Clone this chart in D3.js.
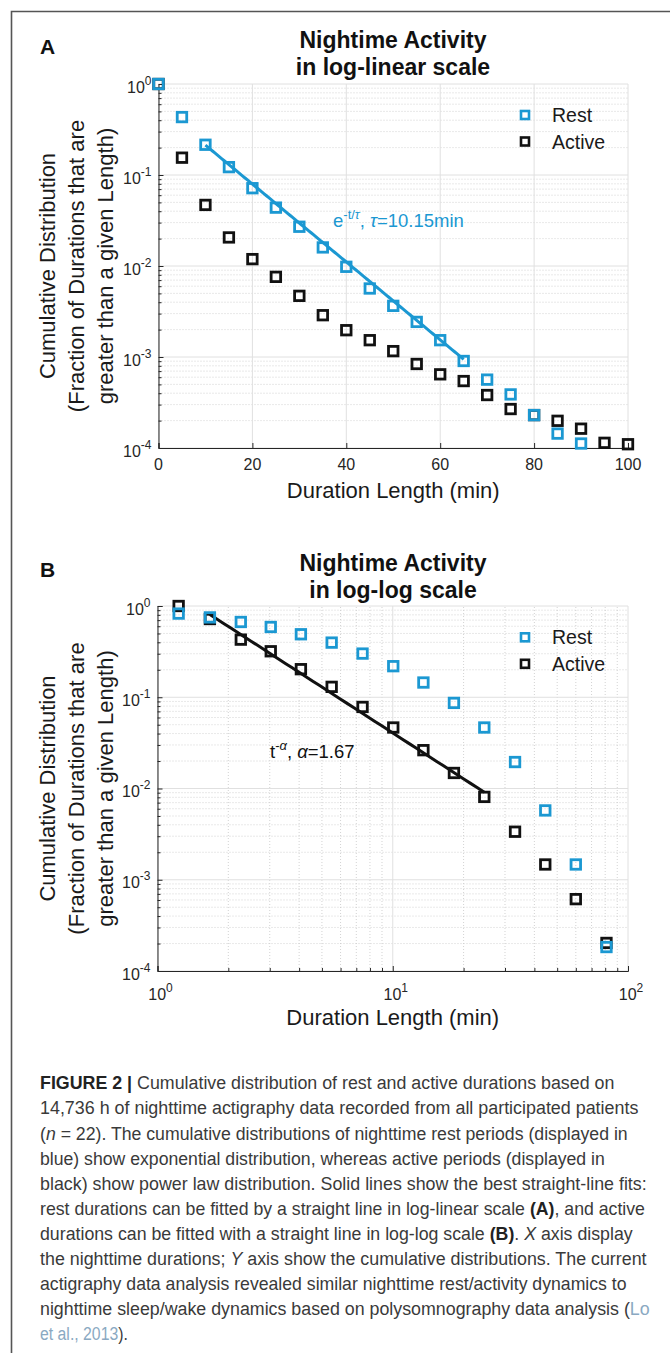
<!DOCTYPE html>
<html>
<head>
<meta charset="utf-8">
<script src="https://cdn.jsdelivr.net/npm/d3@7"></script>
<style>
  html, body { margin: 0; padding: 0; background: #fff; }
  svg { display: block; }
  text { font-family: "Liberation Sans", Arial, Helvetica, sans-serif; }
</style>
</head>
<body>
<svg id="fig" width="670" height="1353"></svg>
<script>
// ---- Panel A: log-linear, durations in minutes ----
const restA_t = [0, 5, 10, 15, 20, 25, 30, 35, 40, 45, 50, 55, 60, 65, 70, 75, 80, 85, 90];
const restA = [1.0, 0.433, 0.215, 0.122, 0.0716, 0.0438, 0.0270, 0.0160, 0.0098, 0.00566, 0.00365,
               0.00243, 0.00153, 0.000904, 0.000564, 0.000388, 0.000230, 0.000144, 0.000112];
const activeA_t = [0, 5, 10, 15, 20, 25, 30, 35, 40, 45, 50, 55, 60, 65, 70, 75, 80, 85, 90, 95, 100];
const activeA = [1.0, 0.155, 0.0469, 0.0206, 0.0119, 0.0076, 0.0047, 0.00288, 0.00197, 0.00153, 0.00116,
                 0.000838, 0.000645, 0.000544, 0.000382, 0.000268, 0.00023, 0.000199, 0.000163, 0.000114, 0.000110];
const tauA = 10.15;          // exponential fit time constant (min)
const fitA_amp = 0.57;
const fitA_range = [10, 65];
const xTicksA = [0, 20, 40, 60, 80, 100];

// ---- Panel B: log-log ----
const tB = [1.23, 1.67, 2.26, 3.03, 4.07, 5.50, 7.44, 10.05, 13.5, 18.2, 24.5, 33.1, 44.5, 60, 81];
const restB = [0.826, 0.75, 0.668, 0.589, 0.490, 0.397, 0.301, 0.219, 0.145, 0.0867, 0.0466, 0.0195,
               0.00575, 0.00147, 0.000183];
const activeB = [1.0, 0.72, 0.428, 0.319, 0.203, 0.130, 0.0783, 0.0466, 0.0263, 0.0148, 0.00809, 0.00336,
                 0.00147, 0.000613, 0.000203];
const alphaB = 1.67;         // power-law exponent
const fitB_amp = 1.9;
const fitB_range = [1.67, 24.5];
const xExpB = [0, 1, 2];
const yExp = [0, -1, -2, -3, -4];

const BLUE = "#1b98d2";
const BLACK = "#111111";
const AXIS = "#262626";

const svg = d3.select("#fig");

// frame
svg.append("path")
  .attr("d", "M11.5,1353 V11.5 H670")
  .attr("fill", "none").attr("stroke", "#555").attr("stroke-width", 1.6);

function minorLog(lo, hi) {
  const out = [];
  for (let e = lo; e < hi; e++) for (let m = 2; m <= 9; m++) out.push(m * Math.pow(10, e));
  return out;
}

function powLabel(sel, base, exp) {
  sel.append("tspan").text(base);
  sel.append("tspan").attr("dy", -8).attr("font-size", 12).text(String(exp));
}

function panel(opt) {
  const { x, y, g } = opt;
  const [x0, x1] = x.range();
  const [y0, y1] = y.range(); // y0 bottom, y1 top

  // grid: minor dotted
  g.selectAll(".ygm").data(minorLog(-4, 0)).join("line")
    .attr("x1", x0).attr("x2", x1).attr("y1", d => y(d)).attr("y2", d => y(d))
    .attr("stroke", "#c8c8c8").attr("stroke-width", 0.8).attr("stroke-dasharray", "1,2");
  if (opt.xMinor) {
    g.selectAll(".xgm").data(opt.xMinor).join("line")
      .attr("y1", y0).attr("y2", y1).attr("x1", d => x(d)).attr("x2", d => x(d))
      .attr("stroke", "#c8c8c8").attr("stroke-width", 0.8).attr("stroke-dasharray", "1,2");
  }
  // grid: major solid
  g.selectAll(".ygM").data(yExp.map(e => Math.pow(10, e))).join("line")
    .attr("x1", x0).attr("x2", x1).attr("y1", d => y(d)).attr("y2", d => y(d))
    .attr("stroke", "#e0e0e0").attr("stroke-width", 1);
  g.selectAll(".xgM").data(opt.xMajor).join("line")
    .attr("y1", y0).attr("y2", y1).attr("x1", d => x(d)).attr("x2", d => x(d))
    .attr("stroke", "#e0e0e0").attr("stroke-width", 1);

  // axes (left + bottom), ticks pointing inward
  const yAxis = d3.axisRight(y).tickValues(yExp.map(e => Math.pow(10, e))).tickSize(5).tickFormat("");
  g.append("g").attr("transform", `translate(${x0},0)`).call(yAxis)
    .call(s => s.selectAll("line,path").attr("stroke", AXIS));
  const yMinorAxis = d3.axisRight(y).tickValues(minorLog(-4, 0)).tickSize(3).tickFormat("");
  g.append("g").attr("transform", `translate(${x0},0)`).call(yMinorAxis)
    .call(s => s.select(".domain").remove())
    .call(s => s.selectAll("line").attr("stroke", AXIS));
  const xAxis = d3.axisTop(x).tickValues(opt.xMajor).tickSize(5).tickFormat("");
  g.append("g").attr("transform", `translate(0,${y0})`).call(xAxis)
    .call(s => s.selectAll("line,path").attr("stroke", AXIS));
  if (opt.xMinor) {
    const xMinorAxis = d3.axisTop(x).tickValues(opt.xMinor).tickSize(3).tickFormat("");
    g.append("g").attr("transform", `translate(0,${y0})`).call(xMinorAxis)
      .call(s => s.select(".domain").remove())
      .call(s => s.selectAll("line").attr("stroke", AXIS));
  }

  // y tick labels 10^k
  yExp.forEach(e => {
    const t = g.append("text").attr("x", x0 - 7).attr("y", y(Math.pow(10, e)) + 8.5)
      .attr("text-anchor", "end").attr("fill", AXIS).attr("font-size", 16);
    powLabel(t, "10", e);
  });

  // fit line
  g.append("path").datum(opt.fit)
    .attr("d", d3.line().x(d => x(d[0])).y(d => y(d[1])))
    .attr("fill", "none").attr("stroke", opt.fitColor).attr("stroke-width", 3);

  // markers (active under rest)
  const S = 9.5;
  [[opt.active, BLACK], [opt.rest, BLUE]].forEach(([pts, col]) => {
    g.append("g").selectAll("rect").data(pts).join("rect")
      .attr("x", d => x(d[0]) - S / 2).attr("y", d => y(d[1]) - S / 2)
      .attr("width", S).attr("height", S)
      .attr("fill", "none").attr("stroke", col).attr("stroke-width", 2.8);
  });

  // legend
  const lg = g.append("g");
  [["Rest", BLUE, opt.legendY], ["Active", BLACK, opt.legendY + 26.5]].forEach(([lab, col, ly]) => {
    lg.append("rect").attr("x", 521).attr("y", ly - 4).attr("width", 8).attr("height", 8)
      .attr("fill", "none").attr("stroke", col).attr("stroke-width", 2.6);
    lg.append("text").attr("x", 552).attr("y", ly + 7).attr("font-size", 19.5).attr("fill", "#1a1a1a").text(lab);
  });

  // title
  g.append("text").attr("x", 393).attr("y", opt.titleY).attr("text-anchor", "middle")
    .attr("font-size", 23).attr("font-weight", "bold").attr("fill", "#111").text("Nightime Activity");
  g.append("text").attr("x", 393).attr("y", opt.titleY + 27).attr("text-anchor", "middle")
    .attr("font-size", 23).attr("font-weight", "bold").attr("fill", "#111").text(opt.subtitle);
  g.append("text").attr("x", 40).attr("y", opt.titleY + 6).attr("font-size", 21)
    .attr("font-weight", "bold").attr("fill", "#111").text(opt.letter);

  // axis titles
  const cy = (y0 + y1) / 2;
  ["Cumulative Distribution", "(Fraction of Durations that are", "greater than a given Length)"]
    .forEach((s, i) => {
      g.append("text").attr("transform", `translate(${55 + i * 29},${cy}) rotate(-90)`)
        .attr("text-anchor", "middle").attr("font-size", 22).attr("fill", "#1a1a1a").text(s);
    });
  g.append("text").attr("x", (x0 + x1) / 2).attr("y", opt.xTitleY).attr("text-anchor", "middle")
    .attr("font-size", 22).attr("fill", "#1a1a1a").text("Duration Length (min)");
}

// ---- Panel A ----
const xA = d3.scaleLinear().domain([0, 100]).range([158.5, 628]);
const yA = d3.scaleLog().domain([1e-4, 1]).range([448, 84]);
const gA = svg.append("g");
const fitA = d3.range(fitA_range[0], fitA_range[1] + 0.01, 0.5).map(t => [t, fitA_amp * Math.exp(-t / tauA)]);
panel({
  x: xA, y: yA, g: gA, xMajor: xTicksA, xMinor: null,
  rest: restA_t.map((t, i) => [t, restA[i]]),
  active: activeA_t.map((t, i) => [t, activeA[i]]),
  fit: fitA, fitColor: BLUE, legendY: 115, titleY: 48, subtitle: "in log-linear scale",
  letter: "A", xTitleY: 498
});
xTicksA.forEach(v => {
  gA.append("text").attr("x", xA(v)).attr("y", 470).attr("text-anchor", "middle")
    .attr("font-size", 16).attr("fill", AXIS).text(v);
});
{
  const t = gA.append("text").attr("x", 333).attr("y", 227).attr("font-size", 18.5).attr("fill", BLUE);
  t.append("tspan").text("e");
  t.append("tspan").attr("dy", -8).attr("font-size", 13).text("-t/");
  t.append("tspan").attr("font-size", 13).attr("font-style", "italic").text("τ");
  t.append("tspan").attr("dy", 8).text(", ");
  t.append("tspan").attr("font-style", "italic").text("τ");
  t.append("tspan").text("=" + tauA + "min");
}

// ---- Panel B ----
const xB = d3.scaleLog().domain([1, 100]).range([157.5, 628]);
const yB = d3.scaleLog().domain([1e-4, 1]).range([971, 606]);
const gB = svg.append("g");
const fitB = d3.range(0, 41).map(i => {
  const t = fitB_range[0] * Math.pow(fitB_range[1] / fitB_range[0], i / 40);
  return [t, fitB_amp * Math.pow(t, -alphaB)];
});
panel({
  x: xB, y: yB, g: gB, xMajor: xExpB.map(e => Math.pow(10, e)), xMinor: minorLog(0, 2),
  rest: tB.map((t, i) => [t, restB[i]]),
  active: tB.map((t, i) => [t, activeB[i]]),
  fit: fitB, fitColor: BLACK, legendY: 637.3, titleY: 571, subtitle: "in log-log scale",
  letter: "B", xTitleY: 1025
});
xExpB.forEach(e => {
  const t = gB.append("text").attr("x", xB(Math.pow(10, e)) + 3).attr("y", 1000).attr("text-anchor", "middle")
    .attr("font-size", 16).attr("fill", AXIS);
  powLabel(t, "10", e);
});
{
  const t = gB.append("text").attr("x", 270).attr("y", 758).attr("font-size", 18.5).attr("fill", "#111");
  t.append("tspan").text("t");
  t.append("tspan").attr("dy", -8).attr("font-size", 13).text("-");
  t.append("tspan").attr("font-size", 13).attr("font-style", "italic").text("α");
  t.append("tspan").attr("dy", 8).text(", ");
  t.append("tspan").attr("font-style", "italic").text("α");
  t.append("tspan").text("=" + alphaB);
}

// ---- Caption ----
const captionLines = [
  [["b", "FIGURE 2 | "], ["", "Cumulative distribution of rest and active durations based on"]],
  [["", "14,736 h of nighttime actigraphy data recorded from all participated patients"]],
  [["", "("], ["i", "n"], ["", " = 22). The cumulative distributions of nighttime rest periods (displayed in"]],
  [["", "blue) show exponential distribution, whereas active periods (displayed in"]],
  [["", "black) show power law distribution. Solid lines show the best straight-line fits:"]],
  [["", "rest durations can be fitted by a straight line in log-linear scale "], ["b", "(A)"], ["", ", and active"]],
  [["", "durations can be fitted with a straight line in log-log scale "], ["b", "(B)"], ["", ". "], ["i", "X"], ["", " axis display"]],
  [["", "the nighttime durations; "], ["i", "Y"], ["", " axis show the cumulative distributions. The current"]],
  [["", "actigraphy data analysis revealed similar nighttime rest/activity dynamics to"]],
  [["", "nighttime sleep/wake dynamics based on polysomnography data analysis ("], ["l", "Lo"]],
  [["l", "et al., 2013"], ["", ")."]]
];
const captionEnds = [615, 639, 628, 605, 647, 645, 633, 647, 627, 650, 128];
const capX = 40;
const capG = svg.append("g");
captionLines.forEach((parts, i) => {
  const t = capG.append("text").attr("x", 0).attr("y", 0)
    .attr("font-size", 19).attr("fill", "#3a3a3a");
  parts.forEach(([st, s]) => {
    const sp = t.append("tspan").text(s);
    if (st === "b") sp.attr("font-weight", "bold").attr("fill", "#222");
    if (st === "i") sp.attr("font-style", "italic");
    if (st === "l") sp.attr("fill", "#8aa9c2");
  });
  // squeeze each line horizontally to its set width (narrow typeface look)
  const w = t.node().getComputedTextLength();
  const k = (captionEnds[i] - capX) / w;
  t.attr("transform", `translate(${capX},${1089.3 + i * 25.1}) scale(${k},1)`);
});
</script>
</body>
</html>
